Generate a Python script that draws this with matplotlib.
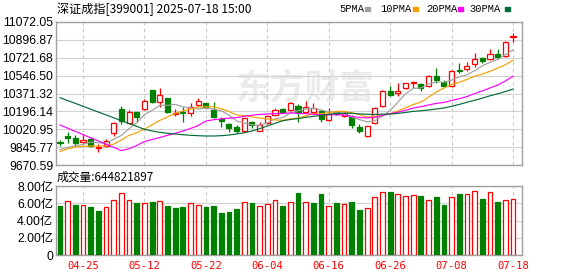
#!/usr/bin/env python3
"""
plot.py - 深证成指 daily candles with 5/10/20/30 day moving averages and a
volume panel underneath. Writes out.png (578x276).
"""

import numpy as np
import pandas as pd
import matplotlib
matplotlib.use("Agg")
import matplotlib.pyplot as plt
from matplotlib.patches import Rectangle


# ---- data -----------------------------------------------------------------
dates = [
    "04-22", "04-23", "04-24", "04-25", "04-28", "04-29", "04-30", "05-06", "05-07", "05-08",
    "05-09", "05-12", "05-13", "05-14", "05-15", "05-16", "05-19", "05-20", "05-21", "05-22",
    "05-23", "05-26", "05-27", "05-28", "05-29", "05-30", "06-03", "06-04", "06-05", "06-06",
    "06-09", "06-10", "06-11", "06-12", "06-13", "06-16", "06-17", "06-18", "06-19", "06-20",
    "06-23", "06-24", "06-25", "06-26", "06-27", "06-30", "07-01", "07-02", "07-03", "07-04",
    "07-07", "07-08", "07-09", "07-10", "07-11", "07-14", "07-15", "07-16", "07-17", "07-18",
]

opens = [
    9896.0, 9954.8, 9938.1, 9898.9, 9925.4, 9840.1, 9856.8, 9981.3, 10216.5, 10085.2,
    10187.1, 10219.4, 10405.6, 10285.1, 10324.3, 10167.5, 10187.1, 10183.2, 10255.7, 10275.3,
    10209.6, 10118.5, 10069.5, 10046.0, 10006.8, 10095.0, 10006.8, 10079.3, 10160.6, 10216.5,
    10209.6, 10248.8, 10187.1, 10187.1, 10202.8, 10111.6, 10187.1, 10150.8, 10138.1, 10046.0,
    9954.8, 10079.3, 10248.8, 10395.8, 10379.2, 10422.3, 10471.3, 10461.5, 10444.8, 10542.8,
    10487.0, 10444.8, 10598.7, 10608.5, 10657.5, 10722.2, 10709.4, 10758.4, 10738.8, 10925.0,
]
highs = [
    9915.6, 9996.9, 9964.6, 9974.4, 9947.9, 9876.4, 9925.4, 10088.0, 10248.8, 10209.6,
    10190.0, 10314.5, 10408.0, 10422.3, 10327.0, 10216.5, 10242.0, 10275.3, 10324.3, 10281.2,
    10291.0, 10144.0, 10085.2, 10062.6, 10134.2, 10101.8, 10095.0, 10165.5, 10226.3, 10232.2,
    10291.0, 10268.4, 10297.8, 10275.3, 10209.6, 10226.3, 10199.8, 10193.0, 10160.6, 10069.5,
    10056.0, 10236.1, 10405.6, 10444.8, 10471.3, 10477.2, 10493.8, 10471.3, 10552.6, 10618.3,
    10503.6, 10601.6, 10673.2, 10683.0, 10771.2, 10732.0, 10804.5, 10804.5, 10882.0, 10961.3,
]
lows = [
    9856.8, 9889.1, 9856.8, 9883.3, 9844.1, 9800.9, 9844.1, 9954.8, 10072.4, 10072.4,
    10092.0, 10209.6, 10275.3, 10242.0, 10177.3, 10150.8, 10095.0, 10150.8, 10248.8, 10232.0,
    10128.3, 10046.0, 9996.9, 9987.1, 10000.9, 10030.3, 10003.0, 10072.4, 10155.7, 10177.3,
    10202.8, 10095.0, 10177.3, 10170.4, 10095.0, 10104.8, 10160.6, 10144.0, 10030.3, 9987.1,
    9947.9, 10072.4, 10242.0, 10346.8, 10346.8, 10412.5, 10422.3, 10395.8, 10438.0, 10471.3,
    10438.0, 10435.0, 10569.3, 10594.8, 10634.0, 10673.2, 10699.6, 10706.5, 10732.0, 10879.0,
]
closes = [
    9886.2, 9935.2, 9883.3, 9918.5, 9859.7, 9847.0, 9905.8, 10085.2, 10104.8, 10193.0,
    10138.1, 10300.8, 10291.0, 10356.6, 10193.0, 10183.2, 10180.2, 10242.0, 10294.9, 10236.1,
    10138.1, 10101.8, 10030.3, 10006.8, 10128.3, 10062.6, 10065.6, 10150.8, 10209.6, 10190.0,
    10275.3, 10187.1, 10242.0, 10232.2, 10121.4, 10170.4, 10167.5, 10177.3, 10062.6, 10003.8,
    10052.8, 10226.3, 10395.8, 10353.7, 10395.8, 10471.3, 10487.0, 10422.3, 10542.8, 10503.6,
    10447.8, 10591.8, 10589.0, 10640.8, 10706.5, 10689.8, 10755.5, 10732.0, 10879.0, 10931.9,
]
prev_close = 9905.0  # 04-21 close, only used to colour the first volume bar

# volume in 亿 (1e8 shares)
volumes = [
    5.68, 6.22, 5.80, 5.76, 5.57, 5.10, 5.53, 6.34, 7.15, 6.34,
    6.03, 5.99, 6.14, 6.22, 5.68, 5.45, 5.57, 5.99, 5.76, 5.57,
    5.68, 4.91, 4.99, 5.33, 6.11, 6.03, 5.68, 5.91, 6.34, 5.68,
    6.11, 7.19, 6.11, 6.03, 7.07, 5.68, 6.03, 5.91, 6.14, 5.22,
    5.41, 6.69, 7.27, 7.30, 7.03, 6.80, 6.96, 6.84, 6.34, 6.72,
    5.84, 6.69, 7.07, 7.03, 7.38, 6.49, 7.27, 6.14, 6.34, 6.45,
]
latest_volume = 644821897

# moving-average values before a full window exists (history is off-chart,
# so these are read straight from the drawn lines)
ma5_head = [9822.5, 9842.1, 9859.7, 9871.5]
ma10_head = [9802.9, 9827.4, 9847.0, 9853.9, 9856.8, 9856.8, 9856.8, 9876.4, 9915.6]
ma20_head = [10062.6, 10031.3, 9999.9, 9968.5, 9937.2, 9905.8, 9874.4, 9843.1, 9811.7,
             9830.3, 9861.7, 9900.9, 9920.5, 9940.1, 9961.7, 9981.3, 10003.8, 10028.3,
             10057.7]
ma30_head = [10330.2, 10301.7, 10274.3, 10245.9, 10217.5, 10189.0, 10161.6, 10133.2,
             10104.8, 10076.3, 10048.9, 10020.5, 10003.8, 9991.1, 9981.3, 9974.4, 9967.5,
             9961.7, 9957.8, 9954.8, 9954.8, 9957.8, 9964.6, 9974.4, 9987.1, 10003.8,
             10026.3, 10052.8, 10079.3]

price_ticks = ["9670.59", "9845.77", "10020.95", "10196.14", "10371.32",
               "10546.50", "10721.68", "10896.87", "11072.05"]
volume_ticks = [0, 2, 4, 6, 8]
volume_tick_labels = ["0", "2.00亿", "4.00亿", "6.00亿", "8.00亿"]
label_dates = ["04-25", "05-12", "05-22", "06-04", "06-16", "06-26", "07-08", "07-18"]

title = "深证成指[399001] 2025-07-18 15:00"
ma_names = ["5PMA", "10PMA", "20PMA", "30PMA"]

# ---- style ----------------------------------------------------------------
W, H = 578, 276
RED = "#ff0000"
GREEN = "#008000"
MA_COLORS = ["#a0a0a0", "#f5a000", "#ff00ff", "#006b36"]
FRAME = "#a0a0a0"
GRID = "#d2d2d2"
CJK = ["Noto Sans CJK SC", "DejaVu Sans"]
NUM = ["Liberation Sans", "Noto Sans CJK SC"]


def moving_average(values, n, head):
    ma = pd.Series(values).rolling(n).mean().to_numpy()
    ma[:n - 1] = head
    return ma


def style_axes(ax):
    for s in ax.spines.values():
        s.set_color(FRAME)
        s.set_linewidth(1.0)
    ax.set_axisbelow(True)
    ax.grid(axis="y", color=GRID, linewidth=0.8)
    ax.grid(axis="x", color="#c8c8c8", linewidth=0.8, linestyle=(0, (3, 3)))
    ax.tick_params(length=0, pad=2)


def main():
    x = np.arange(len(dates))
    o, h, l, c = (np.array(a) for a in (opens, highs, lows, closes))
    up = c >= o
    prev = np.concatenate([[prev_close], c[:-1]])
    vol_up = c >= prev

    fig = plt.figure(figsize=(W / 100, H / 100), dpi=100)
    ax = fig.add_axes([56 / W, 1 - 165 / H, 466 / W, 143 / H])
    axv = fig.add_axes([56 / W, 1 - 255 / H, 466 / W, 69 / H])
    xlim = (-0.52, len(dates) + 0.17)
    tick_pos = [dates.index(d) for d in label_dates]

    # price panel
    style_axes(ax)
    ax.text(305 / W, 1 - 88 / H, "东方财富", transform=fig.transFigure,
            ha="center", va="center", fontsize=25, fontweight="bold",
            color="#ebebeb", family=CJK, zorder=0.1)

    colors = np.where(up, RED, GREEN)
    ax.vlines(x, l, h, colors=colors, linewidth=0.9, zorder=2)
    body_w = 0.66
    ax.bar(x[up], (c - o)[up], bottom=o[up], width=body_w, facecolor="white",
           edgecolor=RED, linewidth=0.9, zorder=3)
    ax.bar(x[~up], (o - c)[~up], bottom=c[~up], width=body_w, facecolor=GREEN,
           edgecolor=GREEN, linewidth=0.9, zorder=3)

    for n, head, color in zip((5, 10, 20, 30), (ma5_head, ma10_head, ma20_head, ma30_head),
                              MA_COLORS):
        ax.plot(x, moving_average(closes, n, head), color=color, linewidth=0.85, zorder=4)

    yt = [float(t) for t in price_ticks]
    ax.set_ylim(yt[0], yt[-1])
    ax.set_yticks(yt)
    ax.set_yticklabels(price_ticks, fontsize=8.8, family=NUM)
    ax.set_xlim(*xlim)
    ax.set_xticks(tick_pos)
    ax.set_xticklabels([])

    # volume panel
    style_axes(axv)
    vol = np.array(volumes)
    axv.bar(x[vol_up], vol[vol_up], width=0.62, facecolor="white",
            edgecolor=RED, linewidth=0.9, zorder=3)
    axv.bar(x[~vol_up], vol[~vol_up], width=0.62, facecolor=GREEN,
            edgecolor=GREEN, linewidth=0.9, zorder=3)
    axv.set_ylim(volume_ticks[0], volume_ticks[-1])
    axv.set_yticks(volume_ticks)
    axv.set_yticklabels(volume_tick_labels, fontsize=8.8, family=NUM)
    axv.set_xlim(*xlim)
    axv.set_xticks(tick_pos)
    axv.set_xticklabels(label_dates, fontsize=7.6, family="DejaVu Sans Mono", color=RED)
    axv.tick_params(axis="x", pad=4)

    # header texts
    fig.text(57 / W, 1 - 9 / H, title, va="center", fontsize=8.7, family=CJK)
    fig.text(57 / W, 1 - 177 / H, f"成交量:{latest_volume}", va="center",
             fontsize=8.5, family=CJK)
    text_x = [339, 380, 426, 469]
    dash_x = [365, 413, 458, 505]
    for name, color, tx, dx in zip(ma_names, MA_COLORS, text_x, dash_x):
        fig.text(tx / W, 1 - 9 / H, name, va="center", fontsize=7.5, family="Liberation Mono")
        fig.add_artist(Rectangle((dx / W, 1 - 10.5 / H), 5 / W, 3 / H,
                                 transform=fig.transFigure, color=color))

    fig.savefig("out.png", dpi=100)
    plt.close(fig)


if __name__ == "__main__":
    main()
